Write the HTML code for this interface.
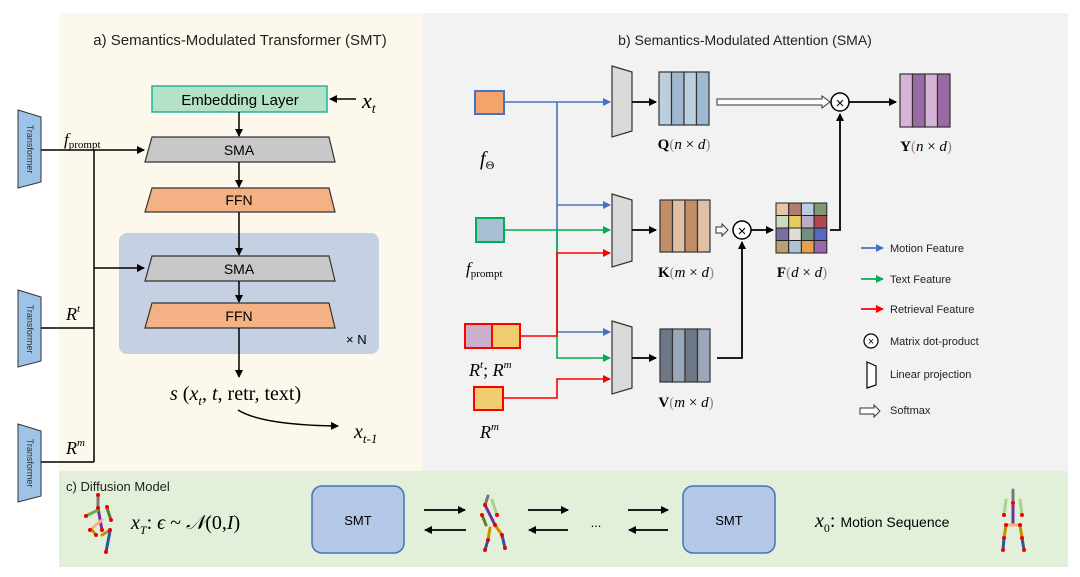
<!DOCTYPE html>
<html><head><meta charset="utf-8"><style>
body{margin:0;background:#fff}
svg{display:block}
text{font-family:"Liberation Sans",sans-serif}
.m{font-family:"Liberation Serif",serif;font-style:italic}
.s{font-family:"Liberation Serif",serif}
</style></head><body>
<svg width="1080" height="577" viewBox="0 0 1080 577" xmlns="http://www.w3.org/2000/svg">
<defs>
<marker id="ak" markerWidth="8" markerHeight="8" refX="7" refY="4" orient="auto" markerUnits="userSpaceOnUse"><path d="M0,0 L8,4 L0,8 z" fill="#000"/></marker>
<marker id="ab" markerWidth="8" markerHeight="8" refX="7" refY="4" orient="auto" markerUnits="userSpaceOnUse"><path d="M0,0 L8,4 L0,8 z" fill="#4472c4"/></marker>
<marker id="ag" markerWidth="8" markerHeight="8" refX="7" refY="4" orient="auto" markerUnits="userSpaceOnUse"><path d="M0,0 L8,4 L0,8 z" fill="#00b050"/></marker>
<marker id="ar" markerWidth="8" markerHeight="8" refX="7" refY="4" orient="auto" markerUnits="userSpaceOnUse"><path d="M0,0 L8,4 L0,8 z" fill="#ff0000"/></marker>
</defs>
<!-- panels -->
<rect x="59" y="13" width="364" height="458" fill="#fdf8ec"/>
<rect x="423" y="13" width="645" height="458" fill="#f2f2f2"/>
<rect x="59" y="471" width="1009" height="96" fill="#e2efd9"/>

<!-- left panel -->
<text x="240" y="45" font-size="15" text-anchor="middle" fill="#222">a) Semantics-Modulated Transformer (SMT)</text>
<rect x="152" y="86" width="175" height="26" fill="#b3e2c8" stroke="#2ab0a0" stroke-width="1.5"/>
<text x="240" y="105" font-size="15" text-anchor="middle">Embedding Layer</text>
<line x1="356" y1="99" x2="330" y2="99" stroke="#000" stroke-width="1.5" marker-end="url(#ak)"/>
<text x="362" y="108" class="m" font-size="22">x<tspan font-size="14" dy="5">t</tspan></text>
<line x1="239" y1="112" x2="239" y2="136" stroke="#000" stroke-width="1.5" marker-end="url(#ak)"/>
<rect x="119" y="233" width="260" height="121" rx="8" fill="#c5d0e2"/>
<polygon points="152,137 329,137 335,162 145,162" fill="#c8c8c8" stroke="#333" stroke-width="1.2"/>
<text x="239" y="155" font-size="14" text-anchor="middle">SMA</text>
<line x1="239" y1="162" x2="239" y2="187" stroke="#000" stroke-width="1.5" marker-end="url(#ak)"/>
<polygon points="152,188 329,188 335,212 145,212" fill="#f4b183" stroke="#333" stroke-width="1.2"/>
<text x="239" y="205" font-size="14" text-anchor="middle">FFN</text>
<line x1="239" y1="212" x2="239" y2="255" stroke="#000" stroke-width="1.5" marker-end="url(#ak)"/>
<polygon points="152,256 329,256 335,281 145,281" fill="#c8c8c8" stroke="#333" stroke-width="1.2"/>
<text x="239" y="274" font-size="14" text-anchor="middle">SMA</text>
<line x1="239" y1="281" x2="239" y2="302" stroke="#000" stroke-width="1.5" marker-end="url(#ak)"/>
<polygon points="152,303 329,303 335,328 145,328" fill="#f4b183" stroke="#333" stroke-width="1.2"/>
<text x="239" y="321" font-size="14" text-anchor="middle">FFN</text>
<text x="346" y="344" font-size="13">× N</text>
<line x1="239" y1="328" x2="239" y2="377" stroke="#000" stroke-width="1.5" marker-end="url(#ak)"/>
<text x="170" y="400" font-size="20" class="s"><tspan class="m">s</tspan> (<tspan class="m">x</tspan><tspan class="m" font-size="13" dy="5">t</tspan><tspan dy="-5">, </tspan><tspan class="m">t</tspan>, retr, text)</text>
<path d="M238,410 Q262,425 338,426" fill="none" stroke="#000" stroke-width="1.5" marker-end="url(#ak)"/>
<text x="354" y="438" class="m" font-size="20">x<tspan font-size="13" dy="5">t-1</tspan></text>

<!-- transformers -->
<g fill="#9dc3e6" stroke="#333" stroke-width="1">
<polygon points="18,110 41,117 41,182 18,188"/>
<polygon points="18,290 41,297 41,361 18,367"/>
<polygon points="18,424 41,431 41,496 18,502"/>
</g>
<g font-size="9" fill="#333">
<text transform="translate(27,149) rotate(90)" text-anchor="middle">Transformer</text>
<text transform="translate(27,329) rotate(90)" text-anchor="middle">Transformer</text>
<text transform="translate(27,463) rotate(90)" text-anchor="middle">Transformer</text>
</g>
<g stroke="#000" stroke-width="1.5" fill="none">
<line x1="41" y1="150" x2="144" y2="150" marker-end="url(#ak)"/>
<line x1="94" y1="150" x2="94" y2="462"/>
<line x1="94" y1="268" x2="144" y2="268" marker-end="url(#ak)"/>
<line x1="41" y1="328" x2="94" y2="328"/>
<line x1="41" y1="462" x2="94" y2="462"/>
</g>
<text x="64" y="145" class="m" font-size="17">f<tspan class="s" font-style="normal" font-size="11" dy="3">prompt</tspan></text>
<text x="66" y="320" class="m" font-size="18">R<tspan font-size="11" dy="-8">t</tspan></text>
<text x="66" y="454" class="m" font-size="18">R<tspan font-size="11" dy="-8">m</tspan></text>

<!-- right panel -->
<text x="745" y="45" font-size="14" text-anchor="middle" fill="#222">b) Semantics-Modulated Attention (SMA)</text>
<!-- inputs -->
<rect x="475" y="91" width="29" height="23" fill="#f4a46a" stroke="#4472c4" stroke-width="2"/>
<text x="480" y="165" class="m" font-size="20">f<tspan class="s" font-style="normal" font-size="12" dy="4">Θ</tspan></text>
<rect x="476" y="218" width="28" height="24" fill="#a6bfd4" stroke="#00b050" stroke-width="2"/>
<text x="466" y="274" class="m" font-size="17">f<tspan class="s" font-style="normal" font-size="11" dy="3">prompt</tspan></text>
<rect x="465" y="324" width="27" height="24" fill="#c9afc9" stroke="#ff0000" stroke-width="2"/>
<rect x="492" y="324" width="28" height="24" fill="#f0cd6e" stroke="#ff0000" stroke-width="2"/>
<text x="469" y="376" class="m" font-size="18">R<tspan font-size="11" dy="-8">t</tspan><tspan font-style="normal" dy="8">; </tspan>R<tspan font-size="11" dy="-8">m</tspan></text>
<rect x="474" y="387" width="29" height="23" fill="#f0cd6e" stroke="#ff0000" stroke-width="2"/>
<text x="480" y="438" class="m" font-size="18">R<tspan font-size="11" dy="-8">m</tspan></text>

<!-- colored connectors -->
<g fill="none" stroke-width="1.6">
<polyline points="504,102 610,102" stroke="#4472c4" marker-end="url(#ab)"/>
<polyline points="557,102 557,332" stroke="#4472c4"/>
<polyline points="557,205 610,205" stroke="#4472c4" marker-end="url(#ab)"/>
<polyline points="557,332 610,332" stroke="#4472c4" marker-end="url(#ab)"/>
<polyline points="504,230 610,230" stroke="#00b050" marker-end="url(#ag)"/>
<polyline points="557,230 557,358 610,358" stroke="#00b050" marker-end="url(#ag)"/>
<polyline points="520,336 557,336 557,253 610,253" stroke="#ff0000" marker-end="url(#ar)"/>
<polyline points="503,398 557,398 557,379 610,379" stroke="#ff0000" marker-end="url(#ar)"/>
</g>
<!-- projections -->
<g fill="#d9d9d9" stroke="#333" stroke-width="1.2">
<polygon points="612,66 632,72 632,131 612,137"/>
<polygon points="612,194 632,200 632,261 612,267"/>
<polygon points="612,321 632,327 632,388 612,394"/>
</g>
<g stroke="#000" stroke-width="1.8">
<line x1="632" y1="102" x2="656" y2="102" marker-end="url(#ak)"/>
<line x1="632" y1="230" x2="656" y2="230" marker-end="url(#ak)"/>
<line x1="632" y1="358" x2="656" y2="358" marker-end="url(#ak)"/>
</g>
<!-- Q -->
<g stroke="#333" stroke-width="1.2">
<rect x="659" y="72" width="12.5" height="53" fill="#bccfdf"/><rect x="671.5" y="72" width="12.5" height="53" fill="#9fbad0"/><rect x="684" y="72" width="12.5" height="53" fill="#bccfdf"/><rect x="696.5" y="72" width="12.5" height="53" fill="#9fbad0"/>
<rect x="660" y="200" width="12.5" height="52" fill="#c28e68"/><rect x="672.5" y="200" width="12.5" height="52" fill="#dfc0a5"/><rect x="685" y="200" width="12.5" height="52" fill="#c28e68"/><rect x="697.5" y="200" width="12.5" height="52" fill="#dfc0a5"/>
<rect x="660" y="329" width="12.5" height="53" fill="#6d7785"/><rect x="672.5" y="329" width="12.5" height="53" fill="#9aa8ba"/><rect x="685" y="329" width="12.5" height="53" fill="#6d7785"/><rect x="697.5" y="329" width="12.5" height="53" fill="#9aa8ba"/>
<rect x="900" y="74" width="12.5" height="53" fill="#d7b3d7"/><rect x="912.5" y="74" width="12.5" height="53" fill="#9a6aa6"/><rect x="925" y="74" width="12.5" height="53" fill="#d7b3d7"/><rect x="937.5" y="74" width="12.5" height="53" fill="#9a6aa6"/>
</g>
<text x="684" y="149" class="s" font-size="15" text-anchor="middle"><tspan font-weight="bold">Q</tspan><tspan fill="#a08080">(</tspan><tspan class="m">n</tspan> × <tspan class="m">d</tspan><tspan fill="#a08080">)</tspan></text>
<text x="686" y="277" class="s" font-size="15" text-anchor="middle"><tspan font-weight="bold">K</tspan><tspan fill="#a08080">(</tspan><tspan class="m">m</tspan> × <tspan class="m">d</tspan><tspan fill="#a08080">)</tspan></text>
<text x="686" y="407" class="s" font-size="15" text-anchor="middle"><tspan font-weight="bold">V</tspan><tspan fill="#a08080">(</tspan><tspan class="m">m</tspan> × <tspan class="m">d</tspan><tspan fill="#a08080">)</tspan></text>
<text x="926" y="151" class="s" font-size="15" text-anchor="middle"><tspan font-weight="bold">Y</tspan><tspan fill="#a08080">(</tspan><tspan class="m">n</tspan> × <tspan class="m">d</tspan><tspan fill="#a08080">)</tspan></text>
<text x="802" y="277" class="s" font-size="15" text-anchor="middle"><tspan font-weight="bold">F</tspan><tspan fill="#a08080">(</tspan><tspan class="m">d</tspan> × <tspan class="m">d</tspan><tspan fill="#a08080">)</tspan></text>
<!-- softmax top -->
<path d="M717,99 L822,99 L822,96 L830,102 L822,108 L822,105 L717,105 z" fill="#fff" stroke="#333" stroke-width="1"/>
<circle cx="840" cy="102" r="9" fill="#fff" stroke="#000" stroke-width="1.5"/>
<text x="840" y="108" font-size="15" text-anchor="middle">×</text>
<line x1="849" y1="102" x2="896" y2="102" stroke="#000" stroke-width="1.8" marker-end="url(#ak)"/>
<!-- middle -->
<path d="M716,227 L722,227 L722,224 L728,230 L722,236 L722,233 L716,233 z" fill="#fff" stroke="#333" stroke-width="1"/>
<circle cx="742" cy="230" r="9" fill="#fff" stroke="#000" stroke-width="1.5"/>
<text x="742" y="236" font-size="15" text-anchor="middle">×</text>
<line x1="751" y1="230" x2="773" y2="230" stroke="#000" stroke-width="1.8" marker-end="url(#ak)"/>
<polyline points="717,358 742,358 742,242" fill="none" stroke="#000" stroke-width="1.8" marker-end="url(#ak)"/>
<polyline points="830,230 840,230 840,114" fill="none" stroke="#000" stroke-width="1.8" marker-end="url(#ak)"/>
<!-- F grid -->
<g stroke="#222" stroke-width="1">
<rect x="776" y="203" width="12.7" height="12.5" fill="#e8c4a8"/><rect x="788.7" y="203" width="12.7" height="12.5" fill="#b07c70"/><rect x="801.4" y="203" width="12.7" height="12.5" fill="#b8cde0"/><rect x="814.1" y="203" width="12.7" height="12.5" fill="#7d9a70"/>
<rect x="776" y="215.5" width="12.7" height="12.5" fill="#c8dcc0"/><rect x="788.7" y="215.5" width="12.7" height="12.5" fill="#e8cc60"/><rect x="801.4" y="215.5" width="12.7" height="12.5" fill="#c0a8c8"/><rect x="814.1" y="215.5" width="12.7" height="12.5" fill="#b04850"/>
<rect x="776" y="228" width="12.7" height="12.5" fill="#7870a0"/><rect x="788.7" y="228" width="12.7" height="12.5" fill="#e0dcd8"/><rect x="801.4" y="228" width="12.7" height="12.5" fill="#709080"/><rect x="814.1" y="228" width="12.7" height="12.5" fill="#5868c0"/>
<rect x="776" y="240.5" width="12.7" height="12.5" fill="#b8a070"/><rect x="788.7" y="240.5" width="12.7" height="12.5" fill="#b0c4d0"/><rect x="801.4" y="240.5" width="12.7" height="12.5" fill="#e8a050"/><rect x="814.1" y="240.5" width="12.7" height="12.5" fill="#9868a8"/>
</g>
<!-- legend -->
<line x1="861" y1="248" x2="883" y2="248" stroke="#4472c4" stroke-width="1.8" marker-end="url(#ab)"/>
<line x1="861" y1="279" x2="883" y2="279" stroke="#00b050" stroke-width="1.8" marker-end="url(#ag)"/>
<line x1="861" y1="309" x2="883" y2="309" stroke="#ff0000" stroke-width="1.8" marker-end="url(#ar)"/>
<circle cx="871" cy="341" r="7" fill="#fff" stroke="#000" stroke-width="1.2"/>
<text x="871" y="345" font-size="11" text-anchor="middle">×</text>
<polygon points="867,362 876,366 876,385 867,388" fill="#fff" stroke="#000" stroke-width="1.2"/>
<path d="M860,408 L874,408 L874,405 L880,411 L874,417 L874,414 L860,414 z" fill="#fff" stroke="#333" stroke-width="1"/>
<g font-size="11" fill="#222">
<text x="890" y="252">Motion Feature</text>
<text x="890" y="283">Text Feature</text>
<text x="890" y="313">Retrieval Feature</text>
<text x="890" y="345">Matrix dot-product</text>
<text x="890" y="378">Linear projection</text>
<text x="890" y="414">Softmax</text>
</g>

<!-- bottom -->
<text x="66" y="491" font-size="13" fill="#222">c) Diffusion Model</text>
<g stroke-width="3" stroke-linecap="round">
<line x1="98" y1="495" x2="98" y2="508" stroke="#777"/>
<line x1="98" y1="508" x2="102" y2="530" stroke="#7030a0"/>
<line x1="86" y1="516" x2="98" y2="510" stroke="#70ad47"/>
<line x1="107" y1="508" x2="111" y2="520" stroke="#548235"/>
<line x1="90" y1="530" x2="102" y2="520" stroke="#f4b183"/>
<line x1="92" y1="530" x2="96" y2="535" stroke="#c49000"/>
<line x1="102" y1="535" x2="110" y2="530" stroke="#c49000"/>
<line x1="110" y1="531" x2="106" y2="552" stroke="#2f5597"/>
</g>
<g fill="#e00">
<circle cx="98" cy="495" r="2"/><circle cx="98" cy="508" r="2"/><circle cx="86" cy="516" r="2"/><circle cx="107" cy="507" r="2"/><circle cx="111" cy="520" r="2"/><circle cx="102" cy="530" r="2"/><circle cx="90" cy="530" r="2"/><circle cx="96" cy="535" r="2"/><circle cx="110" cy="530" r="2"/><circle cx="106" cy="552" r="2"/>
</g>
<text x="131" y="529" class="m" font-size="20">x<tspan font-size="12" dy="5">T</tspan><tspan dy="-5" font-style="normal">: </tspan>ϵ <tspan font-style="normal">~</tspan> 𝒩<tspan font-style="normal">(0,</tspan>I<tspan font-style="normal">)</tspan></text>
<rect x="312" y="486" width="92" height="67" rx="10" fill="#b4c7e7" stroke="#4472c4" stroke-width="1.5"/>
<text x="358" y="525" font-size="13" text-anchor="middle">SMT</text>
<rect x="683" y="486" width="92" height="67" rx="10" fill="#b4c7e7" stroke="#4472c4" stroke-width="1.5"/>
<text x="729" y="525" font-size="13" text-anchor="middle">SMT</text>
<g stroke="#000" stroke-width="1.8">
<line x1="424" y1="510" x2="465" y2="510" marker-end="url(#ak)"/>
<line x1="466" y1="530" x2="425" y2="530" marker-end="url(#ak)"/>
<line x1="528" y1="510" x2="568" y2="510" marker-end="url(#ak)"/>
<line x1="568" y1="530" x2="529" y2="530" marker-end="url(#ak)"/>
<line x1="628" y1="510" x2="668" y2="510" marker-end="url(#ak)"/>
<line x1="668" y1="530" x2="629" y2="530" marker-end="url(#ak)"/>
</g>
<text x="596" y="527" font-size="13" text-anchor="middle">...</text>
<g stroke-width="3" stroke-linecap="round">
<line x1="488" y1="496" x2="485" y2="505" stroke="#777"/>
<line x1="485" y1="505" x2="495" y2="525" stroke="#7030a0"/>
<line x1="492" y1="500" x2="497" y2="515" stroke="#a9d18e"/>
<line x1="482" y1="515" x2="486" y2="525" stroke="#548235"/>
<line x1="495" y1="525" x2="502" y2="535" stroke="#c49000"/>
<line x1="490" y1="528" x2="488" y2="540" stroke="#c49000"/>
<line x1="488" y1="540" x2="485" y2="550" stroke="#2f5597"/>
<line x1="502" y1="535" x2="505" y2="548" stroke="#2f5597"/>
</g>
<g fill="#e00"><circle cx="485" cy="505" r="2"/><circle cx="495" cy="525" r="2"/><circle cx="497" cy="515" r="2"/><circle cx="482" cy="515" r="2"/><circle cx="502" cy="535" r="2"/><circle cx="488" cy="540" r="2"/><circle cx="485" cy="550" r="2"/><circle cx="505" cy="548" r="2"/></g>
<text x="815" y="527" class="m" font-size="20">x<tspan font-size="12" dy="5" font-style="normal">0</tspan><tspan dy="-5" font-style="normal">: </tspan><tspan font-family="Liberation Sans" font-style="normal" font-size="14">Motion Sequence</tspan></text>
<g stroke-width="3" stroke-linecap="round">
<line x1="1013" y1="490" x2="1013" y2="503" stroke="#777"/>
<line x1="1013" y1="503" x2="1013" y2="525" stroke="#7030a0"/>
<line x1="1006" y1="500" x2="1004" y2="515" stroke="#a9d18e"/>
<line x1="1020" y1="500" x2="1022" y2="515" stroke="#a9d18e"/>
<line x1="1006" y1="525" x2="1020" y2="525" stroke="#f4b183"/>
<line x1="1006" y1="525" x2="1004" y2="538" stroke="#c49000"/>
<line x1="1020" y1="525" x2="1022" y2="538" stroke="#c49000"/>
<line x1="1004" y1="538" x2="1003" y2="550" stroke="#2f5597"/>
<line x1="1022" y1="538" x2="1024" y2="550" stroke="#2f5597"/>
</g>
<g fill="#e00"><circle cx="1013" cy="503" r="2"/><circle cx="1004" cy="515" r="2"/><circle cx="1022" cy="515" r="2"/><circle cx="1006" cy="525" r="2"/><circle cx="1020" cy="525" r="2"/><circle cx="1004" cy="538" r="2"/><circle cx="1022" cy="538" r="2"/><circle cx="1003" cy="550" r="2"/><circle cx="1024" cy="550" r="2"/></g>
</svg>
</body></html>
